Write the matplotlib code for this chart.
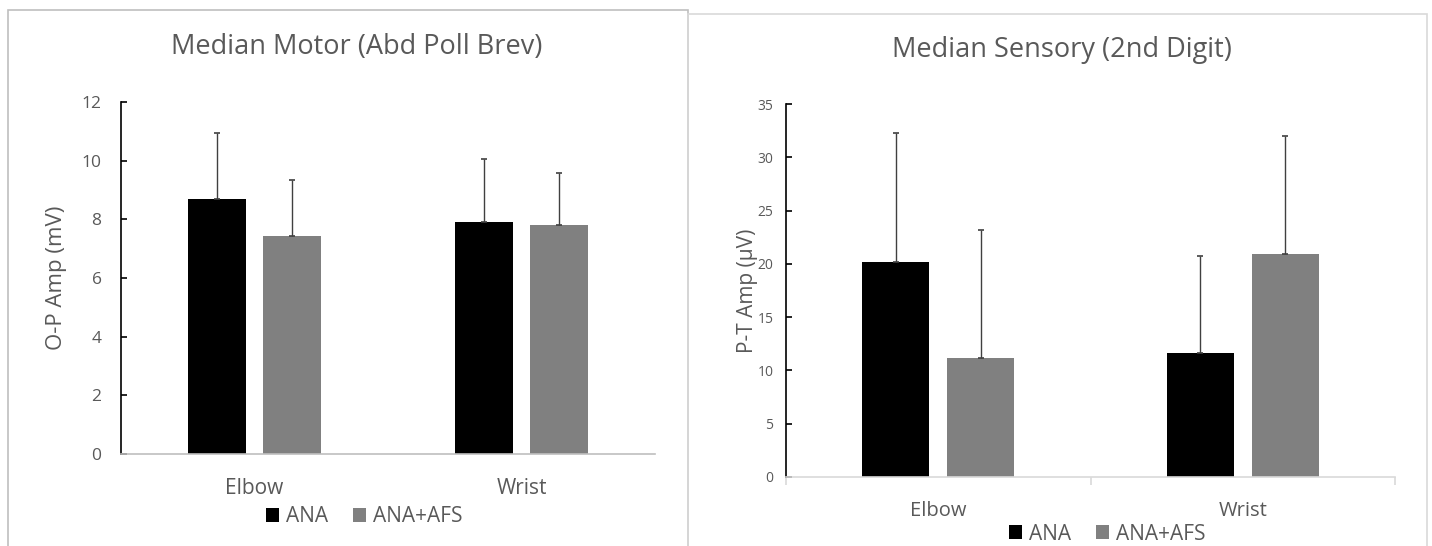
import numpy as np
import matplotlib
matplotlib.use('Agg')
import matplotlib.pyplot as plt
from matplotlib.patches import Rectangle, Patch

# ── data ──────────────────────────────────────────────────────────────────────
sites      = ['Elbow', 'Wrist']
groups     = ['ANA', 'ANA+AFS']
motor_mean = [[8.69, 7.90], [7.44, 7.80]]     # [group][site]
motor_sd   = [[2.27, 2.15], [1.89, 1.79]]
sens_mean  = [[20.17, 11.67], [11.13, 20.96]]
sens_sd    = [[12.08, 9.03], [12.07, 11.01]]
motor_ticks = [0, 2, 4, 6, 8, 10, 12]
sens_ticks  = [0, 5, 10, 15, 20, 25, 30, 35]

COLORS = ['#000000', '#808080']
TXT    = '#595959'
FONT   = ['Open Sans', 'DejaVu Sans']
plt.rcParams['font.family'] = FONT

W, H = 1432, 546
fig = plt.figure(figsize=(W / 100, H / 100), dpi=100, facecolor='white')

def fx(px):
    return px / W

def fy(py):
    return 1 - py / H

# panel frames
fig.patches.append(Rectangle((fx(8), fy(560)), fx(688) - fx(8), fy(10) - fy(560),
                             transform=fig.transFigure, fill=False,
                             edgecolor='#BFBFBF', lw=1.2, zorder=0))
fig.patches.append(Rectangle((fx(688), fy(560)), fx(1427) - fx(688), fy(14) - fy(560),
                             transform=fig.transFigure, fill=False,
                             edgecolor='#D9D9D9', lw=1.2, zorder=0))

BAR_W = 0.22
GAP   = 0.06


def draw(ax, means, sds, ticks, tick_fs, ylabel, ylabel_fs, xaxis_color):
    x = np.arange(len(sites))
    for g in range(len(groups)):
        off = (g - 0.5) * (BAR_W + GAP)
        ax.bar(x + off, means[g], width=BAR_W, color=COLORS[g], zorder=2,
               label=groups[g])
        ax.errorbar(x + off, means[g],
                    yerr=[np.zeros(len(sites)), sds[g]],
                    fmt='none', ecolor='#404040', elinewidth=1.0,
                    capsize=2.5, capthick=1.2, zorder=3)
    ax.set_xlim(-0.5, len(sites) - 0.5)
    ax.set_ylim(ticks[0], ticks[-1])
    ax.set_yticks(ticks)
    for s in ('top', 'right'):
        ax.spines[s].set_visible(False)
    ax.spines['left'].set_color('black')
    ax.spines['left'].set_linewidth(1.2)
    ax.spines['bottom'].set_color(xaxis_color)
    ax.spines['bottom'].set_linewidth(1.2)
    ax.tick_params(axis='y', direction='in', length=4, width=1.2, color='black',
                   labelsize=tick_fs, labelcolor=TXT)
    ax.set_ylabel(ylabel, fontsize=ylabel_fs, color=TXT)


# ── left: motor ───────────────────────────────────────────────────────────────
axL = fig.add_axes([fx(121), fy(454), fx(655) - fx(121), fy(102) - fy(454)])
draw(axL, motor_mean, motor_sd, motor_ticks, 12.5, 'O-P Amp (mV)', 16, '#BFBFBF')
axL.tick_params(axis='y', pad=14)
axL.set_xticks(np.arange(len(sites)))
axL.set_xticklabels(sites)
axL.tick_params(axis='x', length=0, pad=17, labelsize=15, labelcolor=TXT)
axL.yaxis.set_label_coords(-0.101, 0.5)

# ── right: sensory ────────────────────────────────────────────────────────────
axR = fig.add_axes([fx(786), fy(477), fx(1395) - fx(786), fy(104) - fy(477)])
draw(axR, sens_mean, sens_sd, sens_ticks, 10, 'P-T Amp (µV)', 15, '#D9D9D9')
axR.tick_params(axis='y', pad=9)
axR.set_xticks(np.arange(len(sites)))
axR.set_xticklabels(sites)
axR.tick_params(axis='x', which='major', length=0, pad=17, labelsize=14.5,
                labelcolor=TXT)
axR.set_xticks(np.arange(len(sites) + 1) - 0.5, minor=True)
axR.tick_params(axis='x', which='minor', direction='out', length=6, width=1.2,
                color='#D9D9D9')
axR.yaxis.set_label_coords(-0.046, 0.5)

# ── titles ────────────────────────────────────────────────────────────────────
fig.text(fx(357), fy(47), 'Median Motor (Abd Poll Brev)', ha='center',
         va='center', fontsize=19.5, color=TXT)
fig.text(fx(1062), fy(50), 'Median Sensory (2nd Digit)', ha='center',
         va='center', fontsize=19.5, color=TXT)

# ── legends ───────────────────────────────────────────────────────────────────
handles = [Patch(facecolor=c, edgecolor='none') for c in COLORS]
for cx, cy in ((364, 517), (1107, 534)):
    fig.legend(handles, groups, loc='center', bbox_to_anchor=(fx(cx), fy(cy)),
               ncol=2, frameon=False, fontsize=15, handlelength=0.65,
               handleheight=0.65, handletextpad=0.3, columnspacing=1.2,
               labelcolor=TXT, borderpad=0)

fig.savefig('out.png', dpi=100, facecolor='white')
